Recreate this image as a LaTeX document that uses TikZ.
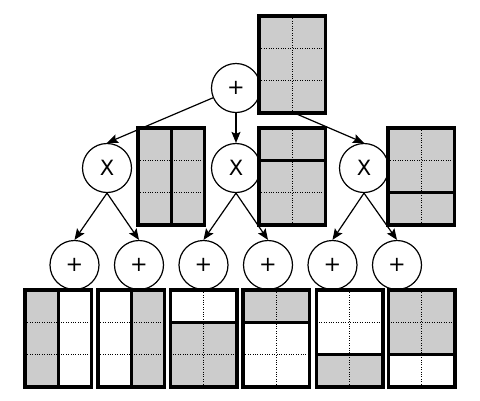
\documentclass[tikz,border=0pt]{standalone}
\usepackage{fontspec}
\setmainfont{DejaVu Sans}
\usetikzlibrary{arrows.meta}
\definecolor{cellgray}{HTML}{CCCCCC}
\tikzset{
  op/.style={circle, draw, line width=1.2pt, minimum size=49pt, inner sep=0pt, fill=white,
    font=\fontsize{21}{25}\selectfont},
  arr/.style={line width=1.2pt, -{Stealth[length=11pt,width=9pt,inset=2pt]}},
  frame/.style={line width=3.2pt},
  thickdiv/.style={line width=3.2pt},
  dotdiv/.style={line width=0.9pt, dash pattern=on 1pt off 1.4pt},
  gfill/.style={fill=cellgray},
}
% grid: #1 = x, #2 = y (top-left), #3 = extra drawing in local coords
\newcommand{\mygrid}[3]{%
  \begin{scope}[shift={(#1,#2)}]
    #3
    \draw[frame] (0,0) rectangle (66.5,97);
  \end{scope}}
\begin{document}
\begin{tikzpicture}[x=1pt,y=-1pt]
\useasboundingbox (0,0) rectangle (480,400);

% nodes
\node[op] (r) at (236,88) {+};
\node[op] (a) at (107,168) {X};
\node[op] (b) at (236,168) {X};
\node[op] (c) at (364,168) {X};
\node[op] (p1) at (74.5,265) {+};
\node[op] (p2) at (139,265) {+};
\node[op] (p3) at (203.5,265) {+};
\node[op] (p4) at (268,265) {+};
\node[op] (p5) at (332.5,265) {+};
\node[op] (p6) at (397,265) {+};

% connectors
\draw[arr] (r) -- (a.north);
\draw[arr] (r) -- (b.north);
\draw[arr] (r) -- (c.north);
\draw[arr] (a.south) -- (p1.north);
\draw[arr] (a.south) -- (p2.north);
\draw[arr] (b.south) -- (p3.north);
\draw[arr] (b.south) -- (p4.north);
\draw[arr] (c.south) -- (p5.north);
\draw[arr] (c.south) -- (p6.north);

% top grid
\mygrid{259}{16}{
  \fill[gfill] (0,0) rectangle (66.5,97);
  \draw[dotdiv] (33.25,0) -- (33.25,97);
  \draw[dotdiv] (0,32.33) -- (66.5,32.33);
  \draw[dotdiv] (0,64.67) -- (66.5,64.67);
}

% middle grids
\mygrid{138}{128}{
  \fill[gfill] (0,0) rectangle (66.5,97);
  \draw[dotdiv] (0,32.33) -- (66.5,32.33);
  \draw[dotdiv] (0,64.67) -- (66.5,64.67);
  \draw[thickdiv] (33.25,0) -- (33.25,97);
}
\mygrid{259}{128}{
  \fill[gfill] (0,0) rectangle (66.5,97);
  \draw[dotdiv] (33.25,0) -- (33.25,97);
  \draw[dotdiv] (0,64.67) -- (66.5,64.67);
  \draw[thickdiv] (0,32.33) -- (66.5,32.33);
}
\mygrid{388}{128}{
  \fill[gfill] (0,0) rectangle (66.5,97);
  \draw[dotdiv] (33.25,0) -- (33.25,97);
  \draw[dotdiv] (0,32.33) -- (66.5,32.33);
  \draw[thickdiv] (0,64.67) -- (66.5,64.67);
}

% bottom grids
\mygrid{25}{290}{
  \fill[gfill] (0,0) rectangle (33.25,97);
  \draw[dotdiv] (0,32.33) -- (66.5,32.33);
  \draw[dotdiv] (0,64.67) -- (66.5,64.67);
  \draw[thickdiv] (33.25,0) -- (33.25,97);
}
\mygrid{98}{290}{
  \fill[gfill] (33.25,0) rectangle (66.5,97);
  \draw[dotdiv] (0,32.33) -- (66.5,32.33);
  \draw[dotdiv] (0,64.67) -- (66.5,64.67);
  \draw[thickdiv] (33.25,0) -- (33.25,97);
}
\mygrid{170.5}{290}{
  \fill[gfill] (0,32.33) rectangle (66.5,97);
  \draw[dotdiv] (33.25,0) -- (33.25,97);
  \draw[dotdiv] (0,64.67) -- (66.5,64.67);
  \draw[thickdiv] (0,32.33) -- (66.5,32.33);
}
\mygrid{243}{290}{
  \fill[gfill] (0,0) rectangle (66.5,32.33);
  \draw[dotdiv] (33.25,0) -- (33.25,97);
  \draw[dotdiv] (0,64.67) -- (66.5,64.67);
  \draw[thickdiv] (0,32.33) -- (66.5,32.33);
}
\mygrid{316.5}{290}{
  \fill[gfill] (0,64.67) rectangle (66.5,97);
  \draw[dotdiv] (33.25,0) -- (33.25,97);
  \draw[dotdiv] (0,32.33) -- (66.5,32.33);
  \draw[thickdiv] (0,64.67) -- (66.5,64.67);
}
\mygrid{388.5}{290}{
  \fill[gfill] (0,0) rectangle (66.5,64.67);
  \draw[dotdiv] (33.25,0) -- (33.25,97);
  \draw[dotdiv] (0,32.33) -- (66.5,32.33);
  \draw[thickdiv] (0,64.67) -- (66.5,64.67);
}
\end{tikzpicture}
\end{document}
